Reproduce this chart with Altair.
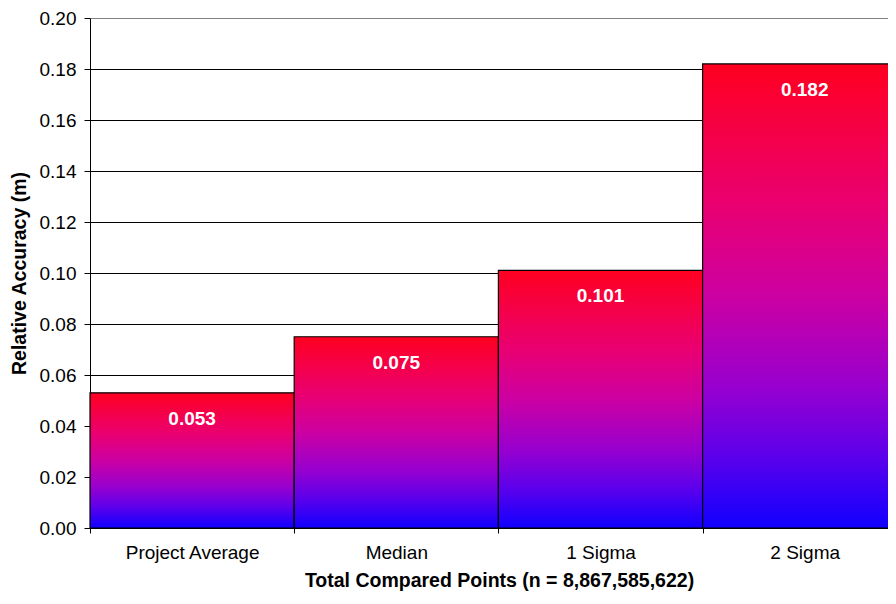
import altair as alt
import pandas as pd

categories = ["Project Average", "Median", "1 Sigma", "2 Sigma"]
values = [0.053, 0.075, 0.101, 0.182]
y_ticks = [0.0, 0.02, 0.04, 0.06, 0.08, 0.10, 0.12, 0.14, 0.16, 0.18, 0.20]

x_title = "Total Compared Points (n = 8,867,585,622)"
y_title = "Relative Accuracy (m)"

df = pd.DataFrame({"cat": categories, "val": values, "idx": list(range(len(categories)))})

FONT = "Liberation Sans"

grad = {
    "gradient": "linear",
    "x1": 0, "y1": 0, "x2": 0, "y2": 1,
    "stops": [
        {"offset": 0.0, "color": "#FF0020"},
        {"offset": 0.3, "color": "#EA0070"},
        {"offset": 0.5, "color": "#CC00A2"},
        {"offset": 0.7, "color": "#9600D0"},
        {"offset": 0.85, "color": "#5A00EC"},
        {"offset": 1.0, "color": "#1000FF"},
    ],
}

cat_array = "[" + ",".join("'" + c + "'" for c in categories) + "]"
x_vals = [i * 0.5 for i in range(2 * len(categories))]

x_scale = alt.Scale(domain=[0, 3.908], nice=False, zero=True, padding=0)
x_axis = alt.Axis(
    values=x_vals,
    labelExpr="datum.value % 1 == 0 ? '' : " + cat_array + "[floor(datum.value)]",
    labelAngle=0,
    labelOverlap=False,
    labelFlush=False,
    labelBound=False,
    tickSize=5,
    tickColor="black",
    tickOpacity={"condition": {"test": "datum.value % 1 == 0", "value": 1}, "value": 0},
    domainColor="black",
    labelFont=FONT,
    labelFontSize=19,
    labelColor="black",
    labelPadding=10,
    titleFont=FONT,
    titleFontSize=19.5,
    titleFontWeight="bold",
    titleColor="black",
    titlePadding=9,
    titleX=409,
    grid=False,
)

y_scale = alt.Scale(domain=[0, 0.2], nice=False, zero=True, padding=0)
y_axis = alt.Axis(
    values=y_ticks,
    format=".2f",
    tickSize=6,
    tickColor="black",
    domainColor="black",
    labelFont=FONT,
    labelFontSize=19,
    labelColor="black",
    labelPadding=8,
    titleFont=FONT,
    titleFontSize=19.5,
    titleFontWeight="bold",
    titleColor="black",
    titlePadding=10,
    grid=True,
    gridColor={"condition": {"test": "datum.value > 0.199", "value": "#808080"}, "value": "black"},
    gridOpacity=1,
    gridWidth=1,
)

base = alt.Chart(df).transform_calculate(
    x0="datum.idx", x1="datum.idx + 1", xm="datum.idx + 0.5"
)

bars = base.mark_bar(color=grad, stroke="black", strokeWidth=1.2, orient="vertical").encode(
    x=alt.X("x0:Q", title=x_title, scale=x_scale, axis=x_axis),
    x2="x1:Q",
    y=alt.Y("val:Q", title=y_title, scale=y_scale, axis=y_axis),
    y2=alt.datum(0),
)

text = base.mark_text(
    dy=32, baseline="alphabetic", color="white", fontWeight="bold", fontSize=19, font=FONT
).encode(
    x=alt.X("xm:Q", title=x_title, scale=x_scale, axis=x_axis),
    y=alt.Y("val:Q", title=y_title, scale=y_scale, axis=y_axis),
    text=alt.Text("val:Q", format=".3f"),
)

chart = (
    alt.layer(bars, text)
    .properties(
        width=798,
        height=510,
        autosize=alt.AutoSizeParams(type="none"),
        padding={"left": 82, "top": 10, "right": 0, "bottom": 63},
    )
    .configure_view(stroke=None)
)

chart.save("out.html", embed_options={"renderer": "svg", "actions": False})
